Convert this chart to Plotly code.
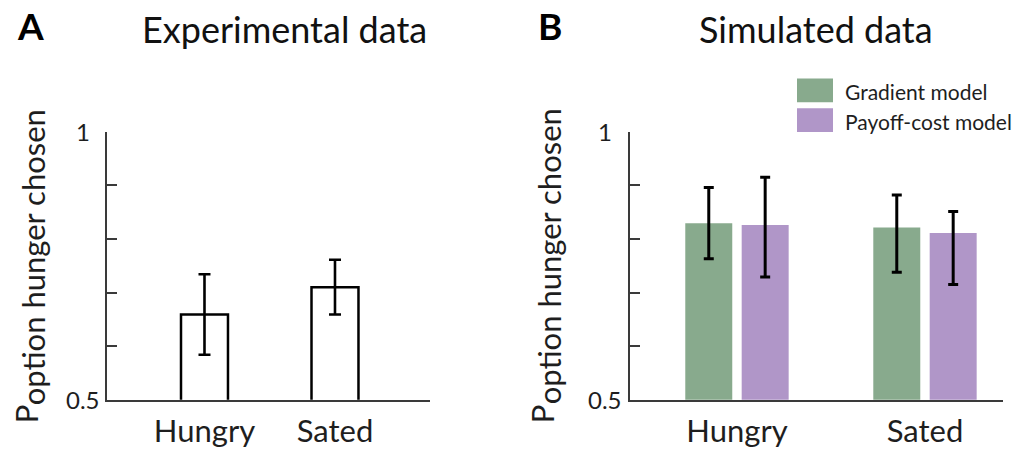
import plotly.graph_objects as go

# ---------------- data ----------------
conditions = ["Hungry", "Sated"]

exp_means = [0.659, 0.710]
exp_err = [0.075, 0.051]

model_names = ["Gradient model", "Payoff-cost model"]
grad_means = [0.829, 0.821]
grad_err_plus = [0.067, 0.061]
grad_err_minus = [0.066, 0.083]
pay_means = [0.826, 0.811]
pay_err_plus = [0.089, 0.040]
pay_err_minus = [0.097, 0.096]

y_tick_vals = [0.5, 0.6, 0.7, 0.8, 0.9, 1.0]
y_label_vals = [0.5, 1.0]
y_label_text = ["0.5", "1"]

panel_letters = ["A", "B"]
panel_titles = ["Experimental data", "Simulated data"]
y_title_main = "P"
y_title_sub = "option hunger chosen"

# ---------------- style ----------------
W, H = 1021, 449
FONT = "Lato"
AX = "#3a3a3a"
GREEN = "#88aa8d"
PURPLE = "#b096c8"
TXT = "#1e1e1e"


def px_x(p):
    return p / W


def px_y(p):
    return 1 - p / H


fig = go.Figure()

fig.add_trace(go.Bar(
    x=conditions, y=exp_means, width=0.36,
    marker=dict(color="white", line=dict(color="black", width=2.5)),
    error_y=dict(type="data", array=exp_err, color="black", thickness=2.6, width=6),
    xaxis="x", yaxis="y", showlegend=False,
))

fig.add_trace(go.Bar(
    x=conditions, y=grad_means, name=model_names[0],
    marker=dict(color=GREEN, line=dict(width=0)),
    error_y=dict(type="data", symmetric=False, array=grad_err_plus,
                 arrayminus=grad_err_minus, color="black", thickness=3, width=5),
    xaxis="x2", yaxis="y2", showlegend=False,
))
fig.add_trace(go.Bar(
    x=conditions, y=pay_means, name=model_names[1],
    marker=dict(color=PURPLE, line=dict(width=0)),
    error_y=dict(type="data", symmetric=False, array=pay_err_plus,
                 arrayminus=pay_err_minus, color="black", thickness=3, width=5),
    xaxis="x2", yaxis="y2", showlegend=False,
))

ydom = [px_y(402.5), px_y(132.5)]

xcommon = dict(
    type="category", showline=True, linecolor=AX, linewidth=2, ticks="",
    showgrid=False, zeroline=False, fixedrange=True,
    tickfont=dict(family=FONT, size=31, color=TXT),
    ticklabelstandoff=3,
)
ycommon = dict(
    range=[0.5, 1.0], showline=True, linecolor=AX, linewidth=2,
    ticks="inside", ticklen=10, tickwidth=2, tickcolor=AX,
    tickvals=y_tick_vals, showticklabels=False, showgrid=False,
    zeroline=False, fixedrange=True, domain=ydom,
)

fig.update_layout(
    width=W, height=H, autosize=False,
    margin=dict(l=0, r=0, t=0, b=0),
    paper_bgcolor="white", plot_bgcolor="white",
    barmode="group", bargap=0.4, bargroupgap=0.167,
    showlegend=False,
    xaxis=dict(domain=[px_x(107), px_x(430)], range=[-0.747, 1.728],
               anchor="y", **xcommon),
    yaxis=dict(anchor="x", **ycommon),
    xaxis2=dict(domain=[px_x(630), px_x(1003)], range=[-0.569, 1.415],
                anchor="y2", **xcommon),
    yaxis2=dict(anchor="x2", **ycommon),
)

ann = []
# y tick labels (centered, as in the reference)
for yref, xc in (("y", 83), ("y2", 605)):
    for v, t in zip(y_label_vals, y_label_text):
        ann.append(dict(text=t, xref="paper", yref=yref, x=px_x(xc), y=v,
                        xanchor="center", yanchor="middle", showarrow=False,
                        font=dict(family=FONT, size=24, color=TXT)))

# y titles: big P + subscript
for xP, yP, xS, yS in ((26, 417, 33, 259), (542, 417, 549, 258)):
    ann.append(dict(text=y_title_main, xref="paper", yref="paper",
                    x=px_x(xP), y=px_y(yP), xanchor="center", yanchor="middle",
                    textangle=-90, showarrow=False,
                    font=dict(family=FONT, size=31, color=TXT)))
    ann.append(dict(text=y_title_sub, xref="paper", yref="paper",
                    x=px_x(xS), y=px_y(yS), xanchor="center", yanchor="middle",
                    textangle=-90, showarrow=False,
                    font=dict(family=FONT, size=31, color=TXT)))

# panel letters and titles
for letter, lx, title, tx in ((panel_letters[0], 30, panel_titles[0], 284),
                              (panel_letters[1], 550, panel_titles[1], 816)):
    ann.append(dict(text="<b>" + letter + "</b>", xref="paper", yref="paper",
                    x=px_x(lx), y=px_y(26), xanchor="center", yanchor="middle",
                    showarrow=False, font=dict(family=FONT, size=37, color="black")))
    ann.append(dict(text=title, xref="paper", yref="paper",
                    x=px_x(tx), y=px_y(29), xanchor="center", yanchor="middle",
                    showarrow=False, font=dict(family=FONT, size=36, color="#111111")))

# legend (manual, large swatches)
shapes = []
for i, (name, col) in enumerate(zip(model_names, [GREEN, PURPLE])):
    y0 = 79 + i * 30
    shapes.append(dict(type="rect", xref="paper", yref="paper",
                       x0=px_x(797), x1=px_x(833), y0=px_y(y0 + 24), y1=px_y(y0),
                       fillcolor=col, line=dict(width=0)))
    ann.append(dict(text=name, xref="paper", yref="paper",
                    x=px_x(843), y=px_y(y0 + 13), xanchor="left", yanchor="middle",
                    showarrow=False, font=dict(family=FONT, size=21, color=TXT)))

fig.update_layout(annotations=ann, shapes=shapes)
fig.write_html("out.html")
